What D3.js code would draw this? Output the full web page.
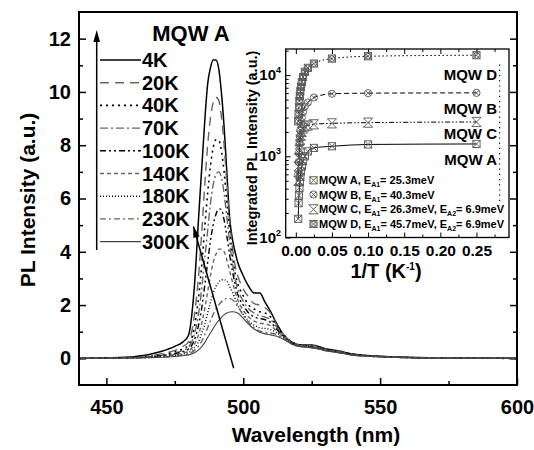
<!DOCTYPE html>
<html>
<head>
<meta charset="utf-8">
<script src="https://cdn.jsdelivr.net/npm/d3@7"></script>
<style>
  body { margin: 0; background: #fff; }
  text { font-family: Arial, "Liberation Sans", sans-serif; font-weight: bold; fill: #000; }
</style>
</head>
<body>
<svg id="chart" width="534" height="450"></svg>
<script>
// ---- main spectra ----
const wavelengths = [440,450,460,470,475,478,480,482,484,485,486,487,488,489,490,491,492,493,494,495,496,497,498,500,502,504,506,508,510,512,515,518,521,525,530,535,540,550,560,575,600];
const tempLabels = ["4K","20K","40K","70K","100K","140K","180K","230K","300K"];
const pl4K   = [0,0.02,0.06,0.26,0.45,0.62,0.87,2.5,5.8,7.4,9.0,10.3,10.9,11.2,11.2,10.9,10.0,8.7,7.0,5.3,4.5,4.0,3.6,3.1,2.7,2.45,2.45,2.1,1.75,1.35,0.85,0.6,0.5,0.5,0.36,0.28,0.16,0.08,0.04,0.01,0];
const pl20K  = [0,0.01,0.04,0.17,0.3,0.45,0.62,1.5,3.5,5.0,6.6,8.0,9.0,9.6,9.8,9.7,9.1,8.0,6.6,5.2,4.2,3.5,3.1,2.6,2.3,2.05,2.0,1.9,1.7,1.3,0.85,0.6,0.5,0.48,0.35,0.26,0.15,0.07,0.03,0.01,0];
const pl40K  = [0,0.01,0.03,0.13,0.24,0.36,0.5,1.1,2.6,3.7,5.0,6.2,7.2,7.9,8.2,8.2,7.8,7.0,5.9,4.8,3.9,3.2,2.8,2.35,2.0,1.85,1.75,1.7,1.55,1.25,0.85,0.6,0.5,0.45,0.34,0.25,0.15,0.07,0.03,0.01,0];
const pl70K  = [0,0.01,0.03,0.11,0.2,0.3,0.42,0.85,1.9,2.8,3.8,4.8,5.8,6.5,6.9,7.0,6.8,6.2,5.3,4.4,3.6,3.0,2.6,2.15,1.85,1.7,1.6,1.55,1.45,1.2,0.82,0.58,0.48,0.44,0.33,0.24,0.14,0.07,0.03,0.01,0];
const pl100K = [0,0.01,0.02,0.09,0.17,0.25,0.35,0.65,1.4,2.0,2.8,3.6,4.4,5.0,5.4,5.6,5.6,5.2,4.6,3.9,3.3,2.8,2.4,2.0,1.7,1.55,1.5,1.45,1.35,1.12,0.8,0.56,0.47,0.43,0.32,0.24,0.14,0.07,0.03,0.01,0];
const pl140K = [0,0.01,0.02,0.07,0.14,0.2,0.28,0.5,1.0,1.4,1.9,2.5,3.1,3.6,3.9,4.1,4.1,4.0,3.7,3.3,2.9,2.5,2.2,1.8,1.55,1.4,1.32,1.3,1.22,1.05,0.78,0.55,0.46,0.42,0.31,0.23,0.13,0.06,0.03,0.01,0];
const pl180K = [0,0.01,0.02,0.06,0.11,0.16,0.22,0.38,0.7,1.0,1.3,1.7,2.1,2.45,2.7,2.85,2.95,2.95,2.9,2.7,2.5,2.25,2.0,1.65,1.4,1.25,1.15,1.12,1.08,0.98,0.75,0.54,0.45,0.41,0.3,0.22,0.13,0.06,0.03,0.01,0];
const pl230K = [0,0.01,0.02,0.05,0.09,0.13,0.17,0.28,0.5,0.68,0.9,1.15,1.4,1.65,1.85,2.0,2.12,2.2,2.25,2.25,2.2,2.1,1.95,1.62,1.35,1.15,1.02,0.98,0.95,0.9,0.72,0.52,0.44,0.4,0.29,0.21,0.12,0.06,0.03,0.01,0];
const pl300K = [0,0.01,0.02,0.04,0.07,0.1,0.13,0.2,0.35,0.46,0.6,0.78,0.95,1.12,1.28,1.42,1.54,1.63,1.7,1.74,1.75,1.74,1.7,1.5,1.28,1.1,0.98,0.92,0.88,0.84,0.7,0.52,0.44,0.4,0.29,0.21,0.12,0.06,0.03,0.01,0];
const spectra = [pl4K, pl20K, pl40K, pl70K, pl100K, pl140K, pl180K, pl230K, pl300K];

// ---- inset: integrated PL vs 1/T ----
const insetTemps = [4,10,20,40,60,80,100,120,140,160,180,200,230,260,300];
const intA = [1420,1400,1330,1270,1150,1000,870,750,650,560,480,410,330,265,170];
const intB = [6050,6000,5900,5300,4600,4100,3500,3000,2500,2100,1750,1450,1100,850,600];
const intC = [2650,2600,2550,2480,2400,2330,2200,2000,1800,1600,1400,1200,950,750,500];
const intD = [17600,17100,16000,13900,12300,11000,9500,8200,7200,6300,5500,4800,4000,3300,2700];
const sampleNames = ["MQW A","MQW B","MQW C","MQW D"];
const ea1 = ["25.3","40.3","26.3","45.7"];
const ea2 = [null,null,"6.9","6.9"];

// styles
const specStyle = [
  {c:"#000", d:null, w:1.5},
  {c:"#666", d:"9,6", w:1.4},
  {c:"#000", d:"2,4", w:1.6},
  {c:"#666", d:"8,3,2,3", w:1.4},
  {c:"#000", d:"6,3,2,3,2,3", w:1.4},
  {c:"#666", d:"4,3", w:1.4},
  {c:"#000", d:"1,2", w:1.4},
  {c:"#666", d:"6,3,2,3", w:1.4},
  {c:"#444", d:null, w:1.1}
];
const insetDash = [null, "5,3", "5,2,1.5,2,1.5,2", "1.5,2.5"];

const svg = d3.select("#chart");

const x = d3.scaleLinear().domain([440, 600]).range([79, 517]);
const y = d3.scaleLinear().domain([-1, 13]).range([385, 12]);

// main axes
const gx = svg.append("g").attr("transform", "translate(0,385)")
  .call(d3.axisBottom(x).tickValues([450,500,550,600]).tickSize(-7).tickSizeOuter(0).tickPadding(15));
svg.append("g").attr("transform", "translate(0,385)")
  .call(d3.axisBottom(x).tickValues([475,525,575]).tickSize(-4).tickSizeOuter(0).tickFormat(""));
const gy = svg.append("g").attr("transform", "translate(79,0)")
  .call(d3.axisLeft(y).tickValues([0,2,4,6,8,10,12]).tickSize(-7).tickSizeOuter(0).tickPadding(8));
svg.append("g").attr("transform", "translate(79,0)")
  .call(d3.axisLeft(y).tickValues([1,3,5,7,9,11]).tickSize(-4).tickSizeOuter(0).tickFormat(""));
svg.append("g").attr("transform", "translate(517,0)")
  .call(d3.axisRight(y).tickValues([0,2,4,6,8,10,12]).tickSize(-7).tickSizeOuter(0).tickFormat(""));
svg.append("g").attr("transform", "translate(517,0)")
  .call(d3.axisRight(y).tickValues([1,3,5,7,9,11]).tickSize(-4).tickSizeOuter(0).tickFormat(""));
svg.selectAll(".domain").remove();
svg.selectAll(".tick line").attr("stroke", "#000").attr("stroke-width", 1.5);
gx.selectAll("text").attr("font-size", 20);
gy.selectAll("text").attr("font-size", 20);

// spectra
const line = d3.line().x((d, i) => x(wavelengths[i])).y(d => y(d)).curve(d3.curveMonotoneX);
svg.append("g").selectAll("path").data(spectra).join("path")
  .attr("d", d => line(d))
  .attr("fill", "none")
  .attr("stroke", (d, i) => specStyle[i].c)
  .attr("stroke-width", (d, i) => specStyle[i].w)
  .attr("stroke-dasharray", (d, i) => specStyle[i].d);

// frame
svg.append("rect").attr("x", 79).attr("y", 12).attr("width", 438).attr("height", 373)
  .attr("fill", "none").attr("stroke", "#000").attr("stroke-width", 2);

// axis titles
svg.append("text").attr("x", 316).attr("y", 442).attr("text-anchor", "middle")
  .attr("font-size", 21).text("Wavelength (nm)");
svg.append("text").attr("transform", "translate(35,200) rotate(-90)").attr("text-anchor", "middle")
  .attr("font-size", 21).text("PL Intensity (a.u.)");

// legend
svg.append("text").attr("x", 191).attr("y", 41).attr("text-anchor", "middle")
  .attr("font-size", 22).text("MQW A");
const leg = svg.append("g").selectAll("g").data(tempLabels).join("g")
  .attr("transform", (d, i) => `translate(0,${60 + i * 22.7})`);
leg.append("line").attr("x1", 100).attr("x2", 141).attr("y1", 0).attr("y2", 0)
  .attr("stroke", (d, i) => specStyle[i].c)
  .attr("stroke-width", (d, i) => Math.max(specStyle[i].w, 1.4))
  .attr("stroke-dasharray", (d, i) => specStyle[i].d);
leg.append("text").attr("x", 142).attr("y", 7).attr("font-size", 20).text(d => d);

// arrows
svg.append("line").attr("x1", 96.7).attr("x2", 96.7).attr("y1", 250).attr("y2", 38)
  .attr("stroke", "#000").attr("stroke-width", 1.5);
svg.append("path").attr("d", "M96.7,30 L93.4,42 L100,42 Z").attr("fill", "#000");
const a0 = [x(496.5), y(-0.37)], a1 = [x(481.8), y(4.95)];
svg.append("line").attr("x1", a0[0]).attr("y1", a0[1]).attr("x2", a1[0]).attr("y2", a1[1])
  .attr("stroke", "#000").attr("stroke-width", 1.5);
const ang = Math.atan2(a1[1] - a0[1], a1[0] - a0[0]) * 180 / Math.PI;
svg.append("path").attr("d", "M0,0 L-11,-3.3 L-11,3.3 Z")
  .attr("transform", `translate(${a1[0]},${a1[1]}) rotate(${ang})`).attr("fill", "#000");

// ---- inset ----
const ix = d3.scaleLinear().domain([-0.014, 0.295]).range([285.7, 509]);
const iy = d3.scaleLog().domain([100, 21000]).range([237.5, 49]);
const inset = svg.append("g");
inset.append("rect").attr("x", 285.7).attr("y", 49).attr("width", 223.3).attr("height", 188.5)
  .attr("fill", "#fff").attr("stroke", "none");

const ixMaj = [0, 0.05, 0.1, 0.15, 0.2, 0.25];
const ixMin = [0.025, 0.075, 0.125, 0.175, 0.225, 0.275];
const gix = inset.append("g").attr("transform", "translate(0,237.5)")
  .call(d3.axisBottom(ix).tickValues(ixMaj).tickSize(-5).tickSizeOuter(0).tickPadding(7).tickFormat(d3.format(".2f")));
gix.selectAll("text").attr("font-size", 15.5);
inset.append("g").attr("transform", "translate(0,237.5)")
  .call(d3.axisBottom(ix).tickValues(ixMin).tickSize(-3).tickSizeOuter(0).tickFormat(""));
inset.append("g").attr("transform", "translate(0,49)")
  .call(d3.axisTop(ix).tickValues(ixMaj).tickSize(-5).tickSizeOuter(0).tickFormat(""));
inset.append("g").attr("transform", "translate(0,49)")
  .call(d3.axisTop(ix).tickValues(ixMin).tickSize(-3).tickSizeOuter(0).tickFormat(""));
const logMaj = [100, 1000, 10000];
const logMin = [];
[100, 1000, 10000].forEach(p => { for (let k = 2; k <= 9; k++) if (p * k < 21000) logMin.push(p * k); });
inset.append("g").attr("transform", "translate(285.7,0)")
  .call(d3.axisLeft(iy).tickValues(logMaj).tickSize(-5).tickSizeOuter(0).tickFormat(""));
inset.append("g").attr("transform", "translate(285.7,0)")
  .call(d3.axisLeft(iy).tickValues(logMin).tickSize(-3).tickSizeOuter(0).tickFormat(""));
inset.selectAll(".domain").remove();
inset.selectAll(".tick line").attr("stroke", "#000").attr("stroke-width", 1);

inset.append("g").selectAll("text").data(logMaj).join("text")
  .attr("x", 281).attr("y", d => iy(d) + 5).attr("text-anchor", "end").attr("font-size", 15)
  .each(function (d) {
    const t = d3.select(this);
    t.append("tspan").text("10");
    t.append("tspan").attr("font-size", 9).attr("dy", -7).text(Math.round(Math.log10(d)));
  });

inset.append("rect").attr("x", 285.7).attr("y", 49).attr("width", 223.3).attr("height", 188.5)
  .attr("fill", "none").attr("stroke", "#000").attr("stroke-width", 1.3);

// inset curves
const intSeries = [intA, intB, intC, intD];
const iline = d3.line().x(d => ix(d[0])).y(d => iy(d[1])).curve(d3.curveMonotoneX);
intSeries.forEach((s, k) => {
  const pts = insetTemps.map((t, i) => [1 / t, s[i]]).sort((a, b) => a[0] - b[0]);
  inset.append("path").attr("d", iline(pts)).attr("fill", "none")
    .attr("stroke", "#000").attr("stroke-width", 1).attr("stroke-dasharray", insetDash[k]);
});

function marker(g, type, cx, cy) {
  const s = 3.6;
  const m = g.append("g").attr("transform", `translate(${cx},${cy})`)
    .attr("fill", "none").attr("stroke", "#555").attr("stroke-width", 0.9);
  const cross = `M${-s},${-s}L${s},${s}M${s},${-s}L${-s},${s}`;
  if (type === 0) { m.append("rect").attr("x", -s).attr("y", -s).attr("width", 2 * s).attr("height", 2 * s); m.append("path").attr("d", cross); }
  if (type === 1) { m.append("circle").attr("r", s); m.append("path").attr("d", `M${-s*0.7},${-s*0.7}L${s*0.7},${s*0.7}M${s*0.7},${-s*0.7}L${-s*0.7},${s*0.7}`); }
  if (type === 2) { m.append("path").attr("d", `M${-s - 1},${-s - 1}L${s + 1},${-s - 1}L${-s - 1},${s + 1}L${s + 1},${s + 1}Z`); }
  if (type === 3) { m.append("rect").attr("x", -s).attr("y", -s).attr("width", 2 * s).attr("height", 2 * s); m.append("circle").attr("r", s * 0.8); m.append("path").attr("d", cross); }
}
intSeries.forEach((s, k) => {
  insetTemps.forEach((t, i) => marker(inset, k, ix(1 / t), iy(s[i])));
});

// sample labels on the right of inset
const sideY = [165, 114, 139, 80];
sampleNames.forEach((n, k) => {
  inset.append("text").attr("x", 497).attr("y", sideY[k]).attr("text-anchor", "end")
    .attr("font-size", 15).text(n);
});
inset.append("line").attr("x1", ix(0.282)).attr("x2", ix(0.282)).attr("y1", iy(13500)).attr("y2", iy(250))
  .attr("stroke", "#000").attr("stroke-width", 1.2).attr("stroke-dasharray", "1.2,4");

// inset legend
const legY = [180.3, 194.5, 209.3, 224];
sampleNames.forEach((n, k) => {
  marker(inset, k, 313.5, legY[k]);
  const t = inset.append("text").attr("x", 319).attr("y", legY[k] + 4).attr("font-size", 11);
  t.append("tspan").text(n + ", E");
  t.append("tspan").attr("font-size", 7).attr("dy", 3).text("A1");
  t.append("tspan").attr("dy", -3).text("= " + ea1[k] + "meV");
  if (ea2[k]) {
    t.append("tspan").text(", E");
    t.append("tspan").attr("font-size", 7).attr("dy", 3).text("A2");
    t.append("tspan").attr("dy", -3).text("= " + ea2[k] + "meV");
  }
});

// inset titles
inset.append("text").attr("x", 386).attr("y", 278).attr("text-anchor", "middle").attr("font-size", 20)
  .each(function () {
    const t = d3.select(this);
    t.append("tspan").text("1/T (K");
    t.append("tspan").attr("font-size", 10).attr("dy", -8).text("-1");
    t.append("tspan").attr("dy", 8).text(")");
  });
inset.append("text").attr("transform", "translate(257,148) rotate(-90)").attr("text-anchor", "middle")
  .attr("font-size", 14.5).text("Integrated PL Intensity (a.u.)");
</script>
</body>
</html>
